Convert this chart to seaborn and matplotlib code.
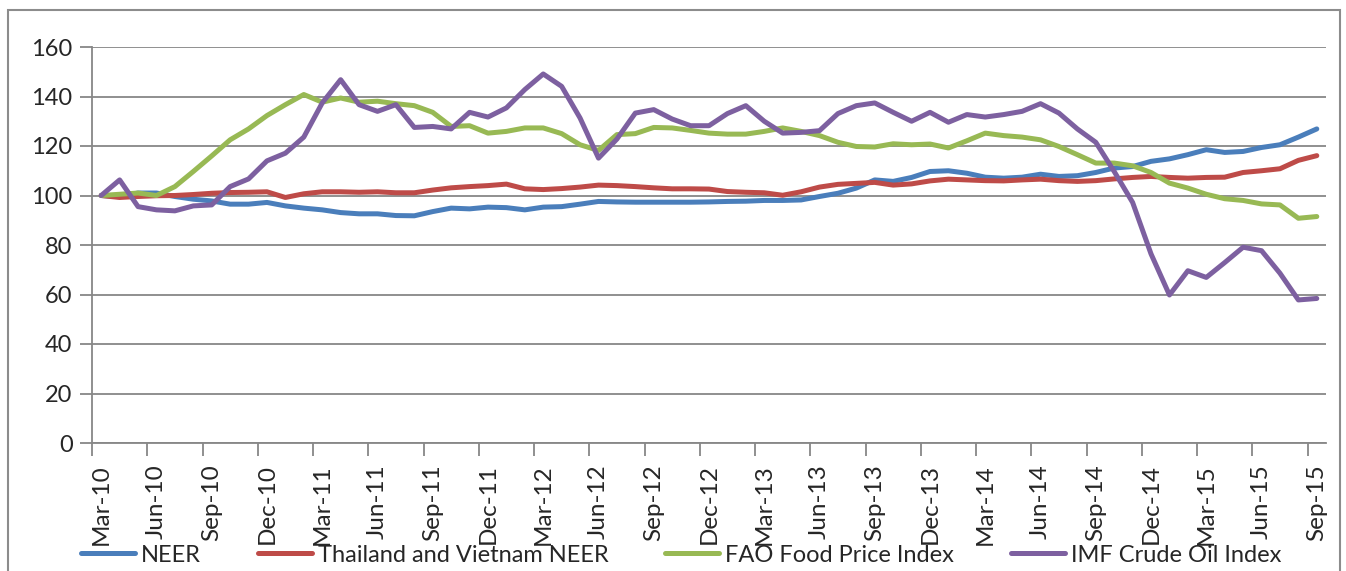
import pandas as pd
import seaborn as sns
import matplotlib.pyplot as plt
from matplotlib.patches import Rectangle

# monthly index values, Mar-2010 = 100
months = pd.date_range("2010-03-01", periods=67, freq="MS").strftime("%b-%y").tolist()

neer = [100, 99.5, 101, 101, 99.6, 98.5, 97.8, 96.5, 96.5, 97.2,
        95.8, 94.9, 94.2, 93.1, 92.6, 92.6, 91.9, 91.8, 93.5, 94.9,
        94.6, 95.3, 95.1, 94.2, 95.3, 95.5, 96.5, 97.6, 97.4, 97.3,
        97.3, 97.3, 97.3, 97.4, 97.6, 97.7, 98.0, 98.0, 98.2, 99.6,
        100.9, 103.0, 106.3, 105.7, 107.3, 109.7, 110.0, 109.0, 107.4, 107.0,
        107.4, 108.6, 107.7, 108.0, 109.3, 111.1, 111.7, 113.8, 114.8, 116.5,
        118.5, 117.4, 117.8, 119.4, 120.5, 123.6, 126.9]

thai_viet_neer = [100, 99.2, 99.6, 99.9, 100, 100.4, 100.9, 101.2, 101.3, 101.5,
                  99.2, 100.7, 101.5, 101.5, 101.3, 101.5, 101.1, 101.1, 102.2, 103.1,
                  103.6, 104.0, 104.6, 102.7, 102.4, 102.8, 103.4, 104.2, 104.0, 103.6,
                  103.1, 102.7, 102.7, 102.6, 101.6, 101.3, 101.1, 100.1, 101.5, 103.4,
                  104.5, 104.9, 105.3, 104.2, 104.7, 105.9, 106.6, 106.3, 106.0, 105.9,
                  106.3, 106.6, 106.0, 105.7, 106.0, 106.7, 107.3, 107.7, 107.3, 107.0,
                  107.3, 107.4, 109.3, 110.0, 110.8, 114.2, 116.1]

fao_food = [100, 100.5, 101, 100, 103.6, 109.7, 116.0, 122.5, 126.9, 132.3,
            136.7, 140.8, 137.7, 139.4, 137.7, 138.1, 137.1, 136.3, 133.6, 127.9,
            128.2, 125.2, 125.9, 127.3, 127.3, 125.0, 120.5, 118.2, 124.6, 125.0,
            127.5, 127.3, 126.3, 125.2, 124.8, 124.8, 125.9, 127.3, 125.9, 124.2,
            121.5, 119.8, 119.6, 120.9, 120.5, 120.8, 119.2, 122.1, 125.2, 124.2,
            123.6, 122.5, 119.8, 116.5, 113.1, 113.1, 112.0, 109.3, 105.0, 103.0,
            100.5, 98.7, 98.0, 96.6, 96.2, 90.8, 91.5]

imf_crude = [100, 106.3, 95.5, 94.2, 93.8, 95.8, 96.2, 103.6, 106.7, 114.0,
             117.1, 123.6, 137.4, 146.8, 136.7, 134.0, 136.7, 127.5, 127.9, 126.9,
             133.6, 131.7, 135.4, 142.8, 149.1, 144.1, 131.3, 115.1, 122.8, 133.3,
             134.7, 130.9, 128.2, 128.2, 133.1, 136.3, 130.0, 125.2, 125.5, 126.2,
             133.1, 136.3, 137.4, 133.6, 130.0, 133.6, 129.6, 132.7, 131.7, 132.7,
             134.0, 137.1, 133.3, 126.9, 121.5, 109.7, 97.2, 76.4, 59.8, 69.6,
             66.9, 72.9, 79.1, 77.7, 68.6, 57.8, 58.4]

series_names = ["NEER", "Thailand and Vietnam NEER", "FAO Food Price Index", "IMF Crude Oil Index"]
colors = ["#4A7EBB", "#BE4B48", "#98B954", "#7D60A0"]

df = pd.DataFrame({"idx": range(len(months)),
                   series_names[0]: neer,
                   series_names[1]: thai_viet_neer,
                   series_names[2]: fao_food,
                   series_names[3]: imf_crude})
long_df = df.melt(id_vars="idx", var_name="series", value_name="value")

sns.set_style("white")
plt.rcParams["font.family"] = ["Lato", "DejaVu Sans"]

fig = plt.figure(figsize=(13.46, 5.71), dpi=100)
ax = fig.add_axes([92 / 1346, 128 / 571, 1234 / 1346, 396 / 571])

sns.lineplot(data=long_df, x="idx", y="value", hue="series", hue_order=series_names,
             palette=colors, linewidth=3.6, ax=ax, legend=False)

grid_col = "#878787"
ax.set_ylim(0, 160)
ax.set_yticks(range(0, 161, 20))
ax.yaxis.grid(True, color=grid_col, linewidth=1.3)
ax.set_axisbelow(True)
ax.set_xlim(-0.5, len(months) - 0.5)

# ticks at category boundaries, labels at category centres
ax.set_xticks([i - 0.5 for i in range(0, len(months), 3)])
ax.set_xticklabels([])
ax.set_xticks(range(0, len(months), 3), minor=True)
ax.set_xticklabels(months[::3], minor=True, rotation=90, fontsize=17.5)
ax.tick_params(axis="x", which="major", direction="out", length=9, width=1.3,
               color=grid_col, bottom=True)
ax.tick_params(axis="x", which="minor", length=0, pad=15)
ax.tick_params(axis="y", direction="out", length=9, width=1.3, color=grid_col,
               left=True, labelsize=17, pad=5)

for side in ["top", "right"]:
    ax.spines[side].set_visible(False)
for side in ["left", "bottom"]:
    ax.spines[side].set_color(grid_col)
    ax.spines[side].set_linewidth(1.3)
ax.set_xlabel("")
ax.set_ylabel("")

handles = [plt.Line2D([], [], color=c, linewidth=3.6, solid_capstyle="round") for c in colors]
fig.legend(handles, series_names, loc="center", bbox_to_anchor=(0.506, 0.028), ncol=4,
           frameon=False, fontsize=17, handlelength=2.3, handletextpad=0.25,
           columnspacing=2.4)

# chart area border
fig.patches.append(Rectangle((8 / 1346, -0.2), 1332 / 1346, 1.2 - 10 / 571,
                             transform=fig.transFigure, fill=False,
                             edgecolor="#8c8c8c", linewidth=1.5))

fig.savefig("out.png", dpi=100)
